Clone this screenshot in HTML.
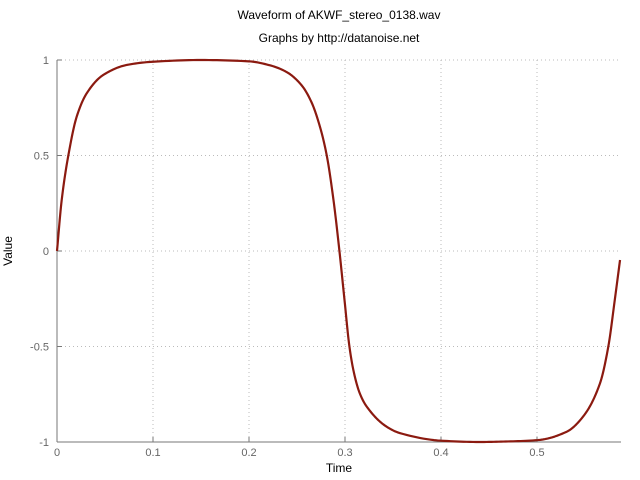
<!DOCTYPE html>
<html><head><meta charset="utf-8"><style>
body{margin:0;background:#fff}
svg{display:block;font-family:"Liberation Sans",sans-serif}
</style></head><body>
<svg id="chart" width="640" height="480">
<text x="339" y="19" text-anchor="middle" font-size="12">Waveform of AKWF_stereo_0138.wav</text>
<text x="339" y="42" text-anchor="middle" font-size="12">Graphs by http://datanoise.net</text>
<text x="339" y="472" text-anchor="middle" font-size="12">Time</text>
<text x="12" y="251" text-anchor="middle" font-size="12" transform="rotate(-90 12 251)">Value</text>
<g id="grid"></g><g id="axes"></g><g id="series"></g>
</svg>
<script>
const xTicks=[0,0.1,0.2,0.3,0.4,0.5];
const xTickLabels=["0","0.1","0.2","0.3","0.4","0.5"];
const yTicks=[-1,-0.5,0,0.5,1];
const yTickLabels=["-1","-0.5","0","0.5","1"];
const times=[0,0.0049,0.0118,0.0205,0.031,0.048,0.0726,0.1,0.15,0.2,0.2219,0.2392,0.2549,0.265,0.274,0.281,0.288,0.2942,0.2995,0.3046,0.309,0.315,0.322,0.3434,0.357,0.4,0.44,0.47,0.501,0.531,0.548,0.5656,0.5743,0.581,0.5865];
const values=[0,0.267,0.5,0.703,0.826,0.921,0.974,0.991,1.0,0.993,0.972,0.937,0.867,0.78,0.649,0.5,0.267,0,-0.257,-0.5,-0.63,-0.74,-0.81,-0.92,-0.953,-0.993,-1.0,-0.997,-0.99,-0.946,-0.867,-0.693,-0.5,-0.257,-0.047];
const X0=57,X1=621,Y0=442,Y1=60,XMAX=0.5875;
const sx=v=>X0+v/XMAX*(X1-X0);
const sy=v=>Y0-(v+1)/2*(Y0-Y1);
const NS="http://www.w3.org/2000/svg";
const grid=document.getElementById('grid'),axes=document.getElementById('axes'),series=document.getElementById('series');
function mk(tag,attrs,parent){const e=document.createElementNS(NS,tag);for(const k in attrs)e.setAttribute(k,attrs[k]);parent.appendChild(e);return e;}
xTicks.forEach((t,i)=>{
  const x=sx(t);
  if(i>0){const g=mk('line',{x1:x,x2:x,y1:Y1,y2:Y0,stroke:'#bbb','stroke-dasharray':'1,3'},grid);
  
  }
  const tk=mk('line',{x1:x,x2:x,y1:Y0,y2:Y0-5,stroke:'#777'},axes);
  
  
  const tl=mk('text',{x:x,y:456,'text-anchor':'middle','font-size':'11',fill:'#666'},axes);
  tl.textContent=xTickLabels[i];
  
  
});
yTicks.forEach((t,i)=>{
  const y=sy(t);
  if(t>-1){const g=mk('line',{x1:X0,x2:X1,y1:y,y2:y,stroke:'#bbb','stroke-dasharray':'1,3'},grid);
  
  }
  const tk=mk('line',{x1:X0,x2:X0+5,y1:y,y2:y,stroke:'#777'},axes);
  
  
  const tl=mk('text',{x:49,y:y+4,'text-anchor':'end','font-size':'11',fill:'#666'},axes);
  tl.textContent=yTickLabels[i];
  
  
});
const xa=mk('line',{x1:X0,x2:X1,y1:Y0,y2:Y0,stroke:'#777'},axes);


const ya=mk('line',{x1:X0,x2:X0,y1:Y1,y2:Y0,stroke:'#777'},axes);


// Monotone cubic (Fritsch-Carlson) interpolation in data space
const n=times.length;
const dk=[],m=new Array(n);
for(let i=0;i<n-1;i++)dk.push((values[i+1]-values[i])/(times[i+1]-times[i]));
m[0]=dk[0];m[n-1]=dk[n-2];
for(let i=1;i<n-1;i++){
  if(dk[i-1]*dk[i]<=0)m[i]=0;
  else{const h0=times[i]-times[i-1],h1=times[i+1]-times[i];const w1=2*h1+h0,w2=h1+2*h0;m[i]=(w1+w2)/(w1/dk[i-1]+w2/dk[i]);}
}
let d='M'+sx(times[0])+','+sy(values[0]);
for(let i=0;i<n-1;i++){
  const h=times[i+1]-times[i];
  for(let s=1;s<=12;s++){
    const u=s/12,u2=u*u,u3=u2*u;
    const v=(2*u3-3*u2+1)*values[i]+(u3-2*u2+u)*h*m[i]+(-2*u3+3*u2)*values[i+1]+(u3-u2)*h*m[i+1];
    d+=' L'+sx(times[i]+u*h).toFixed(2)+','+sy(v).toFixed(2);
  }
}
const line=mk('path',{d:d,fill:'none',stroke:'#8b1a10','stroke-width':'2.2','stroke-linejoin':'round'},series);


</script>
</body></html>
